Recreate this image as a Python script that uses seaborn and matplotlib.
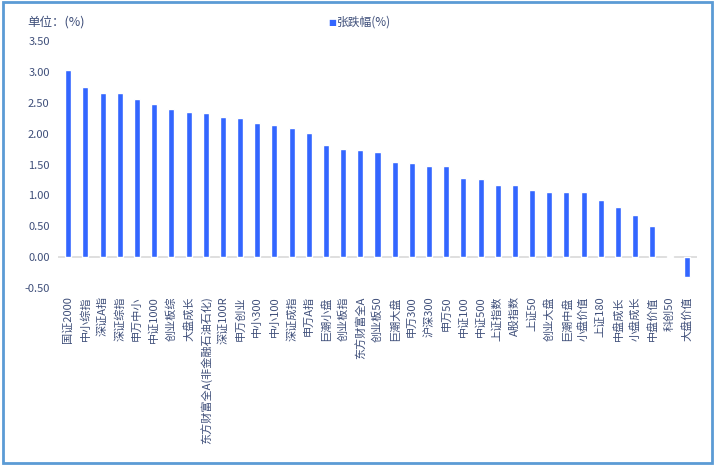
import numpy as np
import pandas as pd
import matplotlib
matplotlib.use("Agg")
import matplotlib.pyplot as plt
from matplotlib.patches import Rectangle
import seaborn as sns

# index names and daily change (%)
categories = [
    "国证2000", "中小综指", "深证A指", "深证综指", "申万中小", "中证1000", "创业板综",
    "大盘成长", "东方财富全A(非金融石油石化)", "深证100R", "申万创业", "中小300",
    "中小100", "深证成指", "申万A指", "巨潮小盘", "创业板指", "东方财富全A", "创业板50",
    "巨潮大盘", "申万300", "沪深300", "申万50", "中证100", "中证500", "上证指数",
    "A股指数", "上证50", "创业大盘", "巨潮中盘", "小盘价值", "上证180", "中盘成长",
    "小盘成长", "中盘价值", "科创50", "大盘价值",
]
changes = [
    3.03, 2.75, 2.66, 2.66, 2.56, 2.48, 2.40,
    2.35, 2.33, 2.27, 2.25, 2.17,
    2.14, 2.09, 2.01, 1.81, 1.75, 1.73, 1.70,
    1.54, 1.52, 1.47, 1.47, 1.28, 1.26, 1.17,
    1.17, 1.09, 1.05, 1.05, 1.05, 0.92, 0.81,
    0.68, 0.50, 0.02, -0.32,
]
yticks = [3.5, 3.0, 2.5, 2.0, 1.5, 1.0, 0.5, 0.0, -0.5]

sns.set_style("white")
plt.rcParams["font.family"] = ["Noto Sans CJK SC", "DejaVu Sans"]

text_color = "#3f4f7a"
bar_color = "#3366ff"

df = pd.DataFrame({"name": categories, "pct": changes})

fig = plt.figure(figsize=(7.15, 4.65), dpi=100)
ax = fig.add_axes([58 / 715, 1 - 288 / 465, 639 / 715, 247 / 465])

sns.barplot(data=df, x="name", y="pct", color=bar_color, width=0.35,
            saturation=1, ax=ax)

ax.set_ylim(-0.5, 3.5)
ax.set_xlim(-0.6, len(categories) - 0.4)
ax.set_yticks(yticks)
ax.set_yticklabels([f"{v:.2f}" for v in yticks], fontsize=8, color=text_color)
ax.set_xticks(range(len(categories)))
ax.set_xticklabels(categories, rotation=90, fontsize=8, color=text_color)
ax.tick_params(axis="both", length=0, pad=6)
ax.set_xlabel("")
ax.set_ylabel("")
for s in ax.spines.values():
    s.set_visible(False)
ax.axhline(0, color="#d9d9d9", lw=1.2, zorder=0)

fig.text(27 / 715, 1 - 22 / 465, "单位：(%)", fontsize=9, color=text_color,
         va="center", ha="left")
fig.text(328 / 715, 1 - 22 / 465, "■", fontsize=6, color=bar_color,
         va="center", ha="left", family=["DejaVu Sans"])
fig.text(337 / 715, 1 - 22 / 465, "张跌幅(%)", fontsize=8.5, color=text_color,
         va="center", ha="left")

# outer frame
fig.patches.append(Rectangle((0.004, 0.004), 0.992, 0.992, transform=fig.transFigure,
                             fill=False, edgecolor="#5b9bd5", lw=2))

fig.savefig("out.png", dpi=100)
